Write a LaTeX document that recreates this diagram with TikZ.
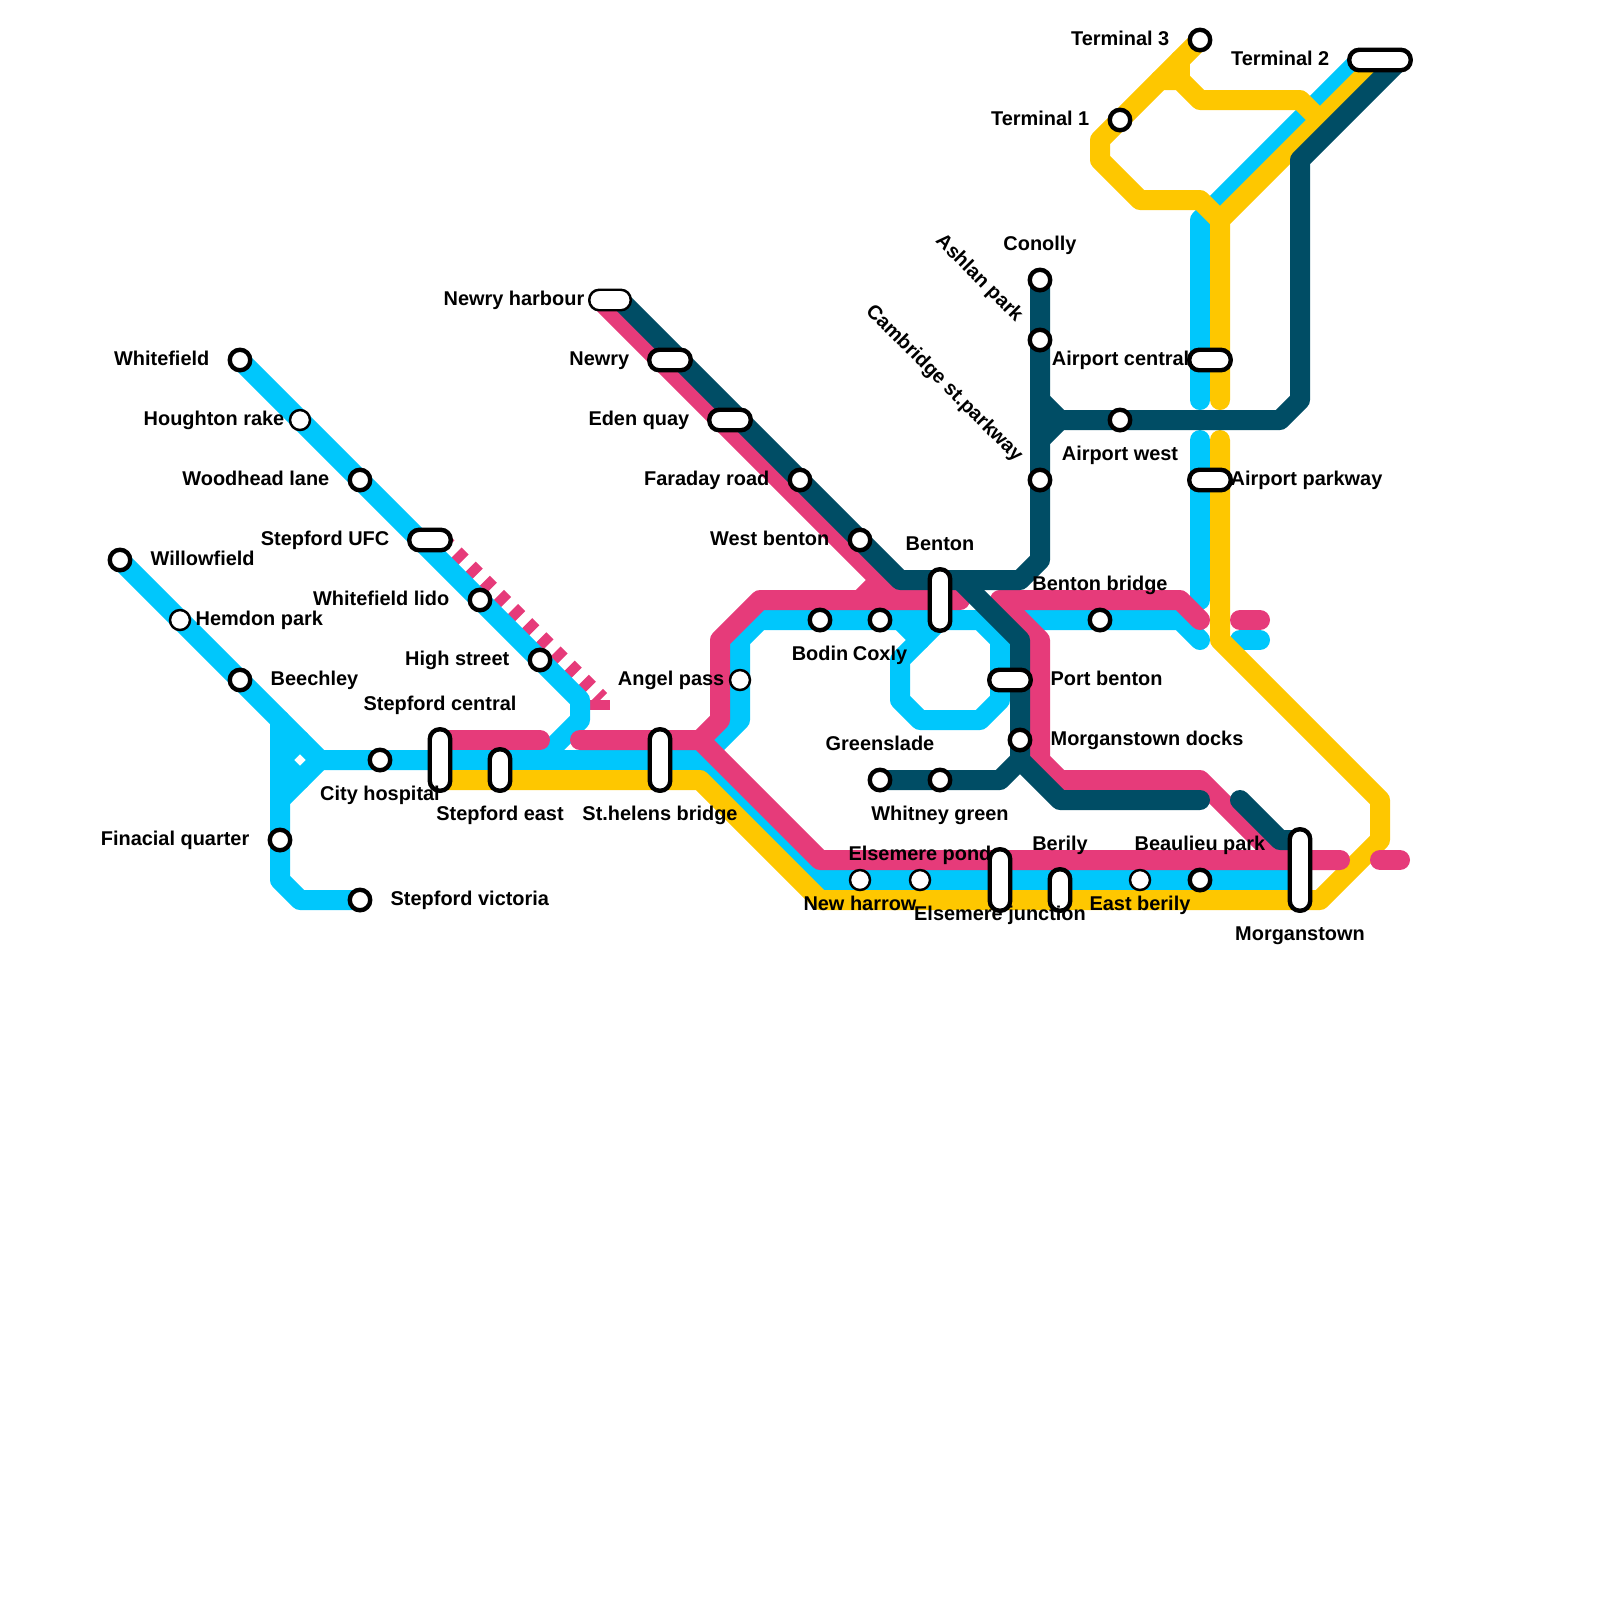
\documentclass[tikz,border=0pt]{standalone}
\usepackage{fontspec}
\setmainfont{Liberation Sans}
\definecolor{lineblue}{HTML}{00C7FC}
\definecolor{linepink}{HTML}{E63B7A}
\definecolor{lineyellow}{HTML}{FEC700}
\definecolor{linedark}{HTML}{004D65}
\tikzset{
  track/.style={line width=0.2cm,line cap=round,line join=round},
  blueline/.style={track,draw=lineblue},
  pinkline/.style={track,draw=linepink},
  yellowline/.style={track,draw=lineyellow},
  darkline/.style={track,draw=linedark},
  stn/.style={circle,draw=black,fill=white,line width=1.25pt,inner sep=0pt,outer sep=0pt,minimum size=0.205cm},
  halt/.style={stn,line width=0.7pt,minimum size=0.2cm},
  pill/.style={rectangle,draw=black,fill=white,line width=1.25pt,rounded corners=0.1cm,inner sep=0pt,outer sep=0pt,minimum width=0.205cm,minimum height=0.205cm},
  hone/.style={pill,minimum width=0.415cm},
  htwo/.style={pill,minimum width=0.615cm},
  vone/.style={pill,minimum height=0.415cm},
  vtwo/.style={pill,minimum height=0.615cm},
  vthree/.style={pill,minimum height=0.815cm},
  labl/.style={font=\fontsize{5.67}{6.8}\selectfont\bfseries,inner sep=0pt,anchor=base east},
  labr/.style={font=\fontsize{5.67}{6.8}\selectfont\bfseries,inner sep=0pt,anchor=base west},
  labc/.style={font=\fontsize{5.67}{6.8}\selectfont\bfseries,inner sep=0pt,anchor=base},
}
\begin{document}
\begin{tikzpicture}[x=0.2cm,y=-0.2cm]
  \useasboundingbox (0,0) rectangle (80,80);
  % pink dashes beside the blue branch
  \draw[draw=linepink,line width=0.2cm,dash pattern=on 0.1cm off 0.1cm,dash phase=-0.005cm] (22,27) -- (30,35);
  \fill[linepink] (29.5,35) rectangle (30.5,35.5);
  % blue line
  \draw[blueline] (6,28) -- (16,38) -- (35,38) -- (41,44) -- (65,44);
  \draw[blueline] (14,36) -- (14,44) -- (15,45) -- (18,45);
  \draw[blueline] (14,40) -- (16,38);
  \draw[blueline] (15,37) -- (14,38) -- (15,39);
  \draw[blueline] (12,18) -- (29,35) -- (29,36) -- (27,38);
  \draw[blueline] (35,38) -- (37,36) -- (37,32) -- (38,31) -- (49,31) -- (50,32) -- (50,35) -- (49,36) -- (46,36) -- (45,35) -- (45,33) -- (47,31);
  \draw[blueline] (45,31) -- (46,32);
  \draw[blueline] (51,31) -- (59,31) -- (60,32);
  \draw[blueline] (62,32) -- (63,32);
  \draw[blueline] (60,30) -- (60,22);
  \draw[blueline] (60,20) -- (60,11) -- (68,3);
  % yellow line
  \draw[yellowline] (22,39) -- (35,39) -- (41,45) -- (66,45) -- (69,42) -- (69,40) -- (61,32) -- (61,22);
  \draw[yellowline] (61,20) -- (61,11) -- (69,3);
  \draw[yellowline] (60,2) -- (55,7) -- (55,8) -- (57,10) -- (60,10) -- (61,11);
  \draw[yellowline] (58,4) -- (59,4) -- (60,5) -- (65,5) -- (66,6);
  \draw[yellowline] (59,3) -- (59,4);
  % pink line
  \draw[pinkline] (22,37) -- (27,37);
  \draw[pinkline] (29,37) -- (35,37) -- (41,43) -- (67,43);
  \draw[pinkline] (69,43) -- (70,43);
  \draw[pinkline] (35,37) -- (36,36) -- (36,32) -- (38,30) -- (48,30);
  \draw[pinkline] (30,15) -- (45,30);
  \draw[pinkline] (43,30) -- (44,29);
  \draw[pinkline] (60,31) -- (59,30) -- (50,30) -- (52,32) -- (52,38) -- (53,39) -- (60,39) -- (64,43);
  \draw[pinkline] (62,31) -- (63,31);
  % dark line
  \draw[darkline] (31,15) -- (45,29) -- (51,29) -- (52,28) -- (52,14);
  \draw[darkline] (48,29) -- (51,32) -- (51,38) -- (53,40) -- (60,40);
  \draw[darkline] (44,39) -- (50,39) -- (51,38);
  \draw[darkline] (62,40) -- (64,42) -- (65,42);
  \draw[darkline] (52,20) -- (53,21) -- (64,21) -- (65,20) -- (65,8) -- (70,3);
  \draw[darkline] (52,22) -- (53,21);
  % stations
  \node[stn] (whitefield) at (12,18) {};
  \node[halt] (houghton) at (15,21) {};
  \node[stn] (woodhead) at (18,24) {};
  \node[hone] (stepfordufc) at (21.5,27) {};
  \node[stn] (lido) at (24,30) {};
  \node[stn] (highstreet) at (27,33) {};
  \node[stn] (willowfield) at (6,28) {};
  \node[halt] (hemdon) at (9,31) {};
  \node[stn] (beechley) at (12,34) {};
  \node[stn] (cityhospital) at (19,38) {};
  \node[stn] (finacial) at (14,42) {};
  \node[stn] (victoria) at (18,45) {};
  \node[vtwo] (stepfordcentral) at (22,38) {};
  \node[vone] (stepfordeast) at (25,38.5) {};
  \node[vtwo] (sthelens) at (33,38) {};
  \node[hone,line width=0.7pt] (newryharbour) at (30.5,15) {};
  \node[hone] (newry) at (33.5,18) {};
  \node[hone] (edenquay) at (36.5,21) {};
  \node[stn] (faraday) at (40,24) {};
  \node[stn] (westbenton) at (43,27) {};
  \node[vtwo] (benton) at (47,30) {};
  \node[stn] (bodin) at (41,31) {};
  \node[stn] (coxly) at (44,31) {};
  \node[halt] (angelpass) at (37,34) {};
  \node[hone] (portbenton) at (50.5,34) {};
  \node[stn] (docks) at (51,37) {};
  \node[stn] (greenslade) at (44,39) {};
  \node[stn] (whitney) at (47,39) {};
  \node[stn] (bentonbridge) at (55,31) {};
  \node[stn] (conolly) at (52,14) {};
  \node[stn] (ashlan) at (52,17) {};
  \node[stn] (cambridge) at (52,24) {};
  \node[stn] (airportwest) at (56,21) {};
  \node[hone] (airportcentral) at (60.5,18) {};
  \node[hone] (airportparkway) at (60.5,24) {};
  \node[stn] (terminalone) at (56,6) {};
  \node[stn] (terminalthree) at (60,2) {};
  \node[htwo] (terminaltwo) at (69,3) {};
  \node[halt] (newharrow) at (43,44) {};
  \node[halt] (elsemerepond) at (46,44) {};
  \node[vtwo] (elsemerejunction) at (50,44) {};
  \node[vone] (berily) at (53,44.5) {};
  \node[halt] (eastberily) at (57,44) {};
  \node[stn] (beaulieu) at (60,44) {};
  \node[vthree] (morganstown) at (65,43.5) {};
  % labels
  \node[labl] (lwhitefield) at (10.5,18.25) {Whitefield};
  \node[labl] (lhoughton) at (14.25,21.25) {Houghton rake};
  \node[labl] (lwoodhead) at (16.5,24.25) {Woodhead lane};
  \node[labl] (lstepfordufc) at (19.5,27.25) {Stepford UFC};
  \node[labl] (llido) at (22.5,30.25) {Whitefield lido};
  \node[labl] (lhighstreet) at (25.5,33.25) {High street};
  \node[labr] (lwillowfield) at (7.5,28.25) {Willowfield};
  \node[labr] (lhemdon) at (9.75,31.25) {Hemdon park};
  \node[labr] (lbeechley) at (13.5,34.25) {Beechley};
  \node[labc] (lcityhospital) at (19,40) {City hospital};
  \node[labl] (lfinacial) at (12.5,42.25) {Finacial quarter};
  \node[labr] (lvictoria) at (19.5,45.25) {Stepford victoria};
  \node[labc] (lstepfordcentral) at (22,35.5) {Stepford central};
  \node[labc] (lstepfordeast) at (25,41) {Stepford east};
  \node[labc] (lsthelens) at (33,41) {St.helens bridge};
  \node[labl] (lnewryharbour) at (29.25,15.25) {Newry harbour};
  \node[labl] (lnewry) at (31.5,18.25) {Newry};
  \node[labl] (ledenquay) at (34.5,21.25) {Eden quay};
  \node[labl] (lfaraday) at (38.5,24.25) {Faraday road};
  \node[labl] (lwestbenton) at (41.5,27.25) {West benton};
  \node[labc] (lbenton) at (47,27.5) {Benton};
  \node[labc] (lbodin) at (41,33) {Bodin};
  \node[labc] (lcoxly) at (44,33) {Coxly};
  \node[labl] (langelpass) at (36.25,34.25) {Angel pass};
  \node[labr] (lportbenton) at (52.5,34.25) {Port benton};
  \node[labr] (ldocks) at (52.5,37.25) {Morganstown docks};
  \node[labc] (lgreenslade) at (44,37.5) {Greenslade};
  \node[labc] (lwhitney) at (47,41) {Whitney green};
  \node[labc] (lbentonbridge) at (55,29.5) {Benton bridge};
  \node[labc] (lconolly) at (52,12.5) {Conolly};
  \node[labl,rotate=-45] (lashlan) at (50.8,16.15) {Ashlan park};
  \node[labl,rotate=-45] (lcambridge) at (50.8,23.15) {Cambridge st.parkway};
  \node[labc] (lairportwest) at (56,23) {Airport west};
  \node[labl] (lairportcentral) at (59.5,18.25) {Airport central};
  \node[labr] (lairportparkway) at (61.5,24.25) {Airport parkway};
  \node[labl] (lterminalone) at (54.5,6.25) {Terminal 1};
  \node[labl] (lterminalthree) at (58.5,2.25) {Terminal 3};
  \node[labl] (lterminaltwo) at (66.5,3.25) {Terminal 2};
  \node[labc] (lnewharrow) at (43,45.5) {New harrow};
  \node[labc] (lelsemerepond) at (46,43) {Elsemere pond};
  \node[labc] (lelsemerejunction) at (50,46) {Elsemere junction};
  \node[labc] (lberily) at (53,42.5) {Berily};
  \node[labc] (leastberily) at (57,45.5) {East berily};
  \node[labc] (lbeaulieu) at (60,42.5) {Beaulieu park};
  \node[labc] (lmorganstown) at (65,47) {Morganstown};
\end{tikzpicture}
\end{document}
